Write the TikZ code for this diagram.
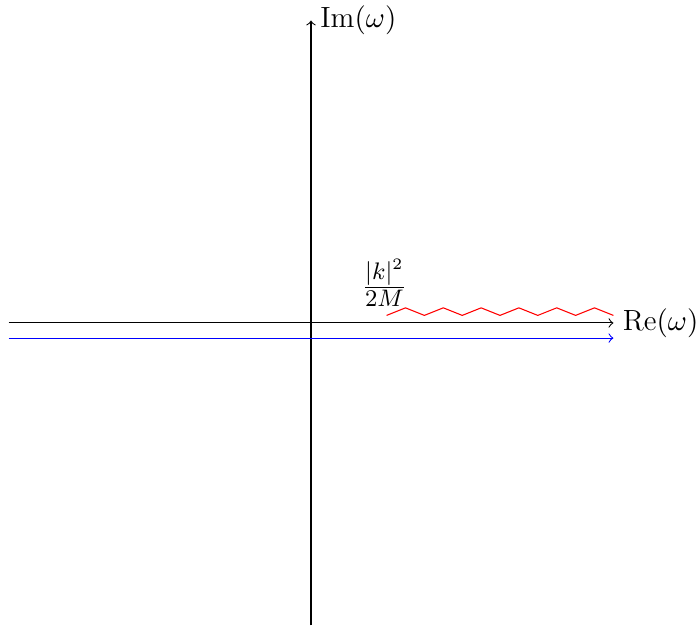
\documentclass[tikz,border=0pt]{standalone}
\begin{document}
\begin{tikzpicture}[x=1cm,y=1cm,every node/.style={font=\fontsize{11}{13}\selectfont}]
\useasboundingbox (-4.114,-4.034) rectangle (5.106,4.272);
\coordinate (xl) at (-4,0);
\coordinate (xr) at (4,0);
\coordinate (yb) at (0,-4);
\coordinate (yt) at (0,4);
\coordinate (bl) at (-4,-0.2);
\coordinate (br) at (4,-0.2);
\draw[->] (xl) -- (xr) node[right] (re) {Re$(\omega)$};
\draw[->] (yb) -- (yt) node[right] (im) {Im$(\omega)$};
\draw[->,blue] (bl) -- (br);
\draw[red] (1,0.1) \foreach \i in {0,...,5} { -- ({1.25+0.5*\i},0.2) -- ({1.5+0.5*\i},0.1) };
\node[font=\fontsize{12.5}{15}\selectfont] (lab) at (0.97,0.53) {$\frac{|k|^2}{2M}$};
\end{tikzpicture}
\end{document}
